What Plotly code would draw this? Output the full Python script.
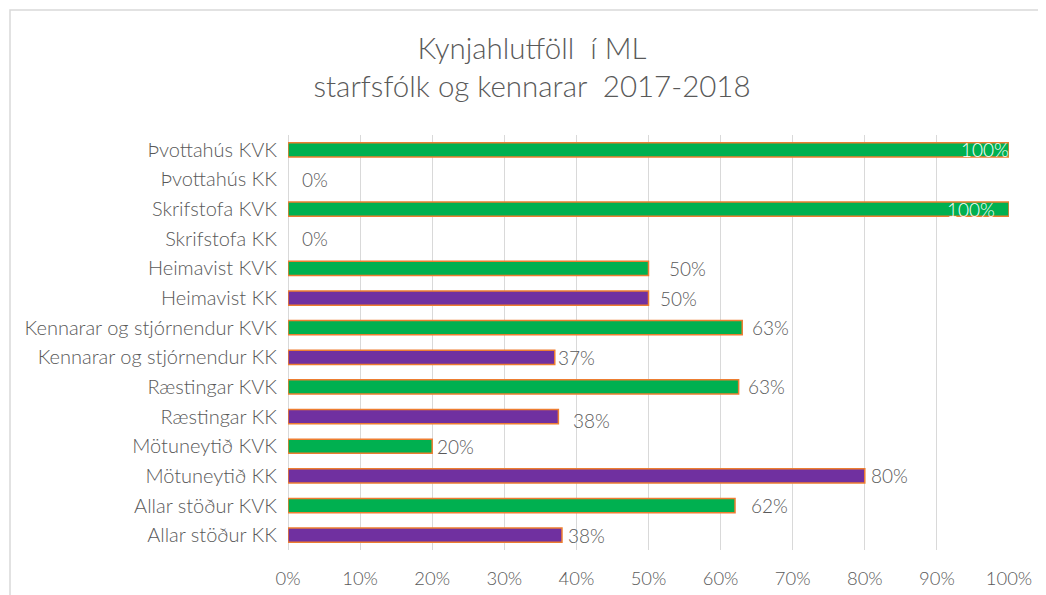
import plotly.graph_objects as go

categories = [
    "Þvottahús KVK", "Þvottahús KK", "Skrifstofa KVK", "Skrifstofa KK",
    "Heimavist KVK", "Heimavist KK", "Kennarar og stjórnendur KVK",
    "Kennarar og stjórnendur KK", "Ræstingar KVK", "Ræstingar KK",
    "Mötuneytið KVK", "Mötuneytið KK", "Allar stöður KVK", "Allar stöður KK",
]
values = [1.0, 0.0, 1.0, 0.0, 0.5, 0.5, 0.63, 0.37, 0.625, 0.375, 0.2, 0.8, 0.62, 0.38]
x_ticks = [0, 0.1, 0.2, 0.3, 0.4, 0.5, 0.6, 0.7, 0.8, 0.9, 1.0]

# label placement tweaks (pixels) to mimic original label positions
label_xshift = [2, 12, -12, 12, 18, 9, 8, 1, 7, 13, 3, 4, 14, 4]
label_yshift = [0, 0, 0, 0, 0, 0, 0, 0, 0, -4, 0, 0, 0, 0]

GREEN = "#00B050"
PURPLE = "#7030A0"
ORANGE = "#ED7D31"
GRAY = "#595959"
FONT = "Lato"
WEIGHT = 300

colors = [GREEN if c.endswith("KVK") else PURPLE for c in categories]
border_w = [1.5 if v > 0 else 0 for v in values]

fig = go.Figure()
fig.add_trace(go.Bar(
    y=categories, x=values, orientation="h",
    marker=dict(color=colors, line=dict(color=ORANGE, width=border_w)),
    hoverinfo="skip",
))

for i, (c, v) in enumerate(zip(categories, values)):
    txt = f"{int(v * 100 + 0.5)}%"
    inside = v >= 0.99
    fig.add_annotation(
        x=v, y=c, xref="x", yref="y", text=txt, showarrow=False,
        xanchor="right" if inside else "left",
        xshift=label_xshift[i], yshift=label_yshift[i],
        font=dict(family=FONT, size=19, weight=WEIGHT,
                  color="white" if inside else GRAY),
    )

# page body has an 8px default margin, so plot area is offset accordingly
fig.update_layout(
    width=1046, height=595,
    margin=dict(l=280, r=45, t=127, b=53),
    paper_bgcolor="white", plot_bgcolor="white",
    showlegend=False,
    bargap=0.52,
    title=dict(
        text="Kynjahlutföll  í ML<br>starfsfólk og kennarar  2017-2018",
        x=0.501, xanchor="center", y=0.915, yanchor="middle",
        font=dict(family=FONT, size=29.5, weight=WEIGHT, color=GRAY),
    ),
    font=dict(family=FONT, size=18, weight=WEIGHT, color=GRAY),
)
fig.update_xaxes(
    range=[0, 1.0], tickvals=x_ticks, tickformat=".0%",
    showgrid=True, gridcolor="#D9D9D9", gridwidth=1,
    zeroline=True, zerolinecolor="#D9D9D9", zerolinewidth=1,
    showline=False, ticks="", ticklabelstandoff=16,
    tickfont=dict(family=FONT, size=18.4, weight=WEIGHT, color=GRAY),
    fixedrange=True,
)
fig.update_yaxes(
    autorange="reversed", showgrid=False, ticks="", showline=False,
    ticklabelstandoff=10,
    tickfont=dict(family=FONT, size=20, weight=WEIGHT, color=GRAY),
    fixedrange=True,
)
# chart area border (light gray frame, partially cropped in the original)
fig.add_shape(
    type="rect", xref="paper", yref="paper",
    x0=(2 - 280) / 721, x1=(1060 - 280) / 721,
    y0=(542 - 610) / 415, y1=(542 - 2) / 415,
    line=dict(color="#D9D9D9", width=1.5), fillcolor="rgba(0,0,0,0)",
    layer="below",
)

fig.write_html("out.html")
